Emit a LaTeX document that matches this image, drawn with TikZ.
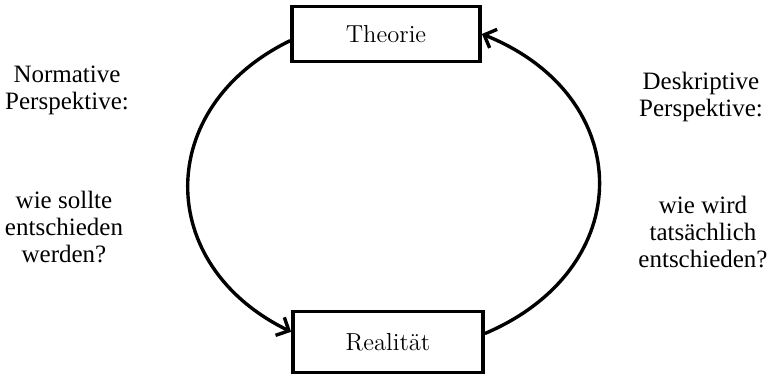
\documentclass[tikz,border=0pt]{standalone}
\usepackage{fontspec}
\usepackage{tikz}
\usetikzlibrary{arrows.meta,positioning}
\newfontfamily\timesfont{Liberation Serif}
\tikzset{
  levelbox/.style={draw=black,line width=1.9pt,fill=white,align=center,
    minimum width=94pt,minimum height=27.5pt,font=\fontsize{12.3}{14}\selectfont},
  viewlabel/.style={align=center,font=\timesfont\fontsize{12.5}{13.5}\selectfont},
  cyclearrow/.style={-{Straight Barb[length=5pt,width=10pt]},line width=1.7pt}
}
\begin{document}
\begin{tikzpicture}[x=0.5pt,y=0.5pt]
  \useasboundingbox (0,0) rectangle (772,378);

  \node[levelbox] (theorie) at (386,344) {Theorie};
  \node[levelbox,minimum width=95pt,minimum height=30.5pt] (realitaet) at (388,36) {Realität};

  \node[viewlabel] (normtitle) at (67,288) {Normative\\Perspektive:};
  \node[viewlabel] (normq) at (64,151) {wie sollte\\entschieden\\werden?};
  \node[viewlabel] (desktitle) at (701,281) {Deskriptive\\Perspektive:};
  \node[viewlabel] (deskq) at (703,146) {wie wird\\tatsächlich\\entschieden?};

  \draw[cyclearrow] (theorie.184) .. controls +(206:152) and +(154:152) .. (realitaet.174);
  \draw[cyclearrow] (realitaet.5) .. controls +(23:167) and +(338:167) .. (theorie.east);
\end{tikzpicture}
\end{document}
